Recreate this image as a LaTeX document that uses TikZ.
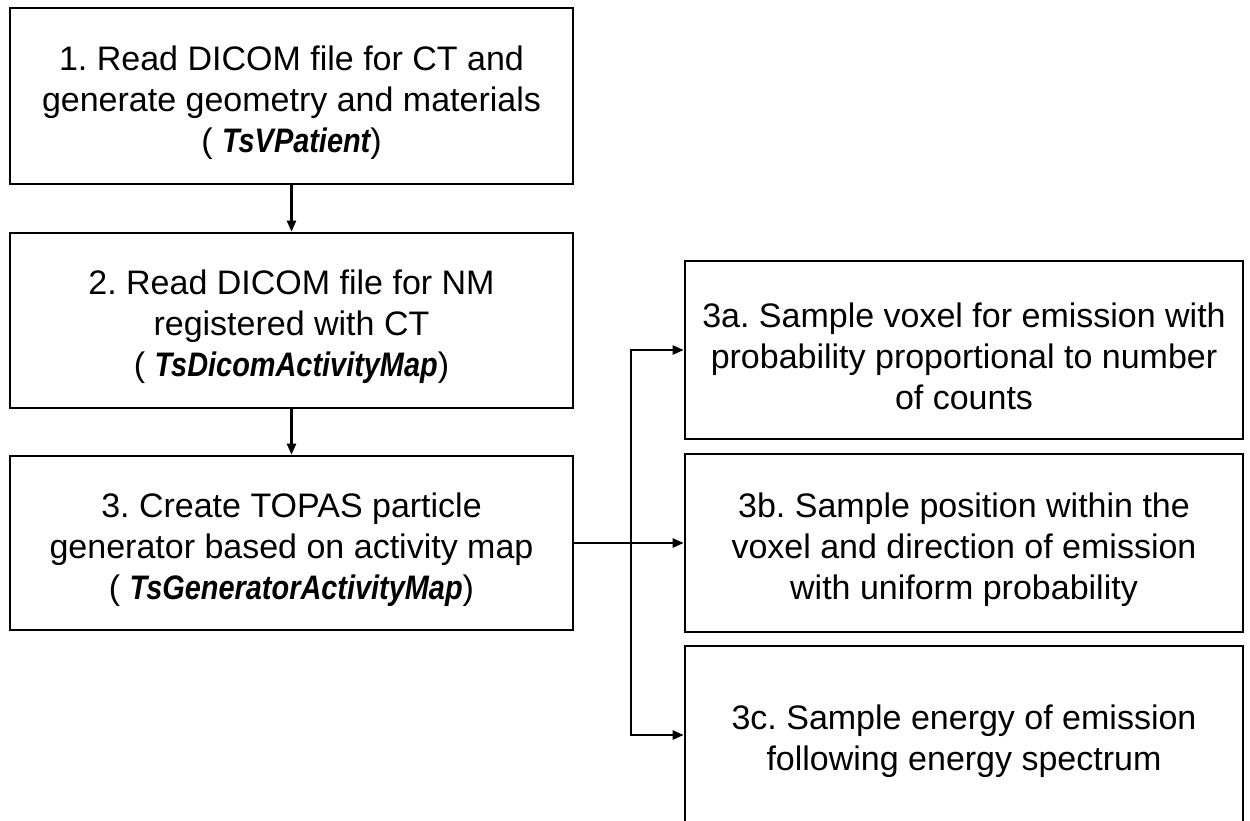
\documentclass[tikz,border=0pt]{standalone}
\usepackage{fontspec}
\usepackage{graphicx}
\setmainfont{Liberation Sans}
\usetikzlibrary{arrows.meta}
\frenchspacing
\newcommand{\clsname}[1]{\scalebox{0.85}[1]{\bfseries\itshape #1}}
\newcommand{\topstrut}{\rule{0pt}{38pt}}
\begin{document}
\begin{tikzpicture}[x=1pt,y=-1pt,
  stepbox/.style={draw=black,line width=2.6pt,fill=white,align=center,
    inner sep=0pt,font=\fontsize{34}{41}\selectfont},
  conn/.style={line width=2.2pt,-{Triangle[length=11pt,width=9pt]}}]
\path[use as bounding box,fill=white] (0,0) rectangle (1250,821);
\node[stepbox,minimum width=563pt,minimum height=176pt] (b1) at (291.5,96)
  {\topstrut 1. Read DICOM file for CT and\\generate geometry and materials\\( \clsname{TsVPatient})};
\node[stepbox,minimum width=563pt,minimum height=175pt] (b2) at (291.5,320.5)
  {\topstrut 2. Read DICOM file for NM\\registered with CT\\( \clsname{TsDicomActivityMap})};
\node[stepbox,minimum width=563pt,minimum height=174pt] (b3) at (291.5,543)
  {\topstrut 3. Create TOPAS particle\\generator based on activity map\\( \clsname{TsGeneratorActivityMap})};
\node[stepbox,minimum width=558pt,minimum height=178pt] (b3a) at (964,350)
  {\topstrut 3a. Sample voxel for emission with\\probability proportional to number\\of counts};
\node[stepbox,minimum width=558pt,minimum height=178pt] (b3b) at (964,543)
  {\topstrut 3b. Sample position within the\\voxel and direction of emission\\with uniform probability};
\node[stepbox,minimum width=558pt,minimum height=178pt] (b3c) at (964,735)
  {\topstrut 3c. Sample energy of emission\\following energy spectrum};
\coordinate (t) at (631,543);
\draw[conn] (b1) -- (b2);
\draw[conn] (b2) -- (b3);
\draw[conn] (b3.east) -- (b3b.west);
\draw[conn] (t) |- (b3a.west);
\draw[conn] (t) |- (b3c.west);
\end{tikzpicture}
\end{document}
